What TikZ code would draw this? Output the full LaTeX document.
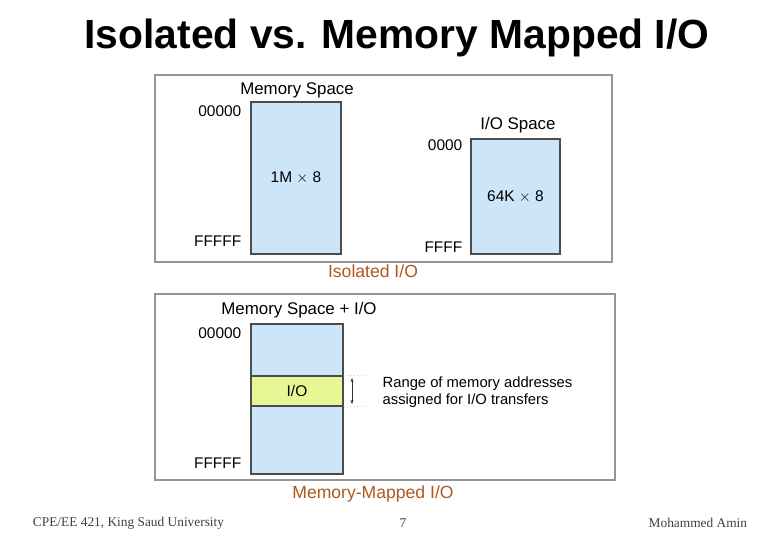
\documentclass[tikz,border=0pt]{standalone}
\usepackage{fontspec}
\setmainfont{Liberation Sans}
\newfontfamily\footfont{Liberation Serif}
\usetikzlibrary{arrows.meta, positioning}
\definecolor{memblue}{RGB}{205,229,248}
\definecolor{ioyellow}{RGB}{232,246,150}
\definecolor{framegray}{RGB}{150,150,150}
\definecolor{captbrown}{RGB}{176,86,30}
\tikzset{
  frame/.style={rectangle, draw=framegray, line width=1.2pt, inner sep=0pt},
  membox/.style={rectangle, draw=black!70, fill=memblue, line width=1pt,
                 inner sep=0pt, font=\fontsize{11}{13}\selectfont},
  iobox/.style={membox, fill=ioyellow},
  lbl/.style={font=\fontsize{11}{13}\selectfont, inner sep=1pt},
  head/.style={lbl, font=\fontsize{12}{14}\selectfont},
  addr/.style={lbl, anchor=east},
  capt/.style={font=\fontsize{12.5}{14}\selectfont, text=captbrown},
  foot/.style={font=\footfont\fontsize{9.5}{11}\selectfont, text=black!75}
}
\begin{document}
\begin{tikzpicture}[x=0.025cm, y=-0.025cm]
  \useasboundingbox (0,0) rectangle (770,554);
  % title
  \node[font=\bfseries\fontsize{29}{33}\selectfont] (title) at (397,38)
    {Isolated vs. Memory Mapped I/O};
  % isolated I/O
  \node[frame, minimum width=11.425cm, minimum height=4.675cm] (isoframe) at (383.5,168.5) {};
  \node[membox, minimum width=2.25cm, minimum height=3.8cm] (mem) at (296,178) {1M $\times$ 8};
  \node[head] (memlbl) at (297,90) {Memory Space};
  \node[addr] (memtop) at (243,111) {00000};
  \node[addr] (membot) at (243,241) {FFFFF};
  \node[membox, minimum width=2.225cm, minimum height=2.875cm] (io) at (515.5,196.5) {64K $\times$ 8};
  \node[head] (iolbl) at (518,125) {I/O Space};
  \node[addr] (iotop) at (464,145) {0000};
  \node[addr] (iobot) at (464,247) {FFFF};
  \node[capt] (isocapt) at (373,271) {Isolated I/O};
  % memory-mapped I/O
  \node[frame, minimum width=11.5cm, minimum height=4.65cm] (mmframe) at (385,387) {};
  \node[membox, minimum width=2.3cm, minimum height=3.75cm] (mmem) at (297,399) {};
  \node[iobox, minimum width=2.3cm, minimum height=0.75cm] (band) at (297,391) {I/O};
  \node[head] (mmlbl) at (299,310) {Memory Space + I/O};
  \node[addr] (mmtop) at (243,333) {00000};
  \node[addr] (mmbot) at (243,463) {FFFFF};
  \coordinate (dtop) at (372,376);
  \coordinate (dbot) at (372,406);
  \draw[black!40, dotted] (band.north east) -- (dtop);
  \draw[black!40, dotted] (band.south east) -- (dbot);
  \coordinate (atop) at (352,378);
  \coordinate (abot) at (352,404);
  \draw[{Stealth[length=3pt]}-{Stealth[length=3pt]}, black!80, line width=0.4pt] (atop) -- (abot);
  \node[lbl, anchor=west, align=left, font=\fontsize{10.5}{12.5}\selectfont] (range) at (381,392)
    {Range of memory addresses\\assigned for I/O transfers};
  \node[capt] (mmcapt) at (373,494) {Memory-Mapped I/O};
  % footer
  \node[foot, anchor=west] (footl) at (28,523) {CPE/EE 421, King Saud University};
  \node[foot] (footc) at (403,523) {7};
  \node[foot, anchor=east] (footr) at (752,523) {Mohammed Amin};
\end{tikzpicture}
\end{document}
